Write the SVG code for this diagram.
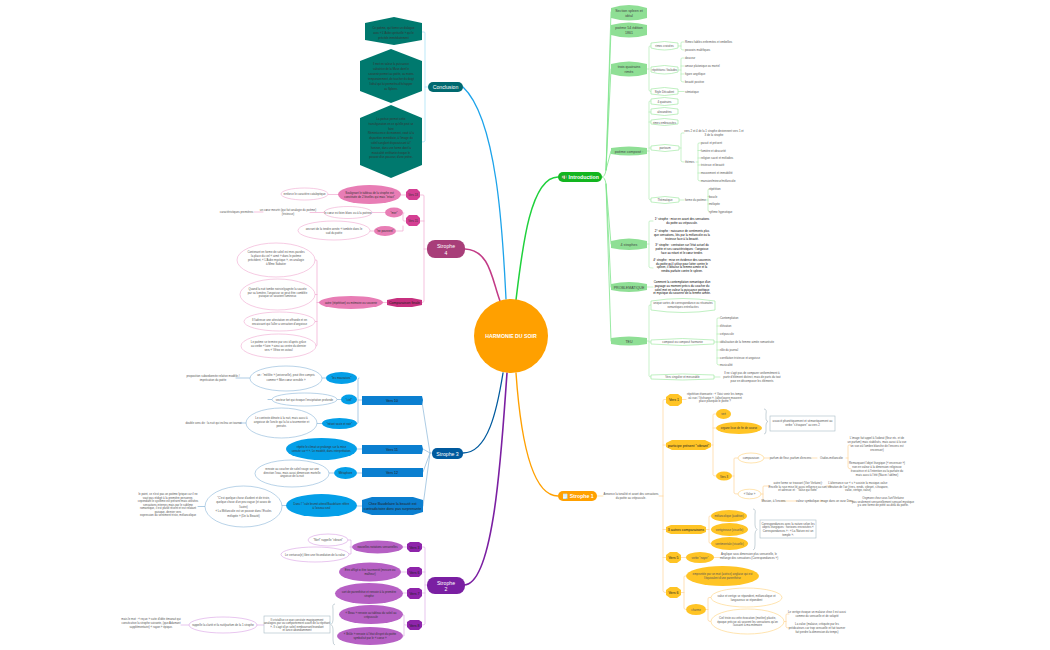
<svg xmlns="http://www.w3.org/2000/svg" width="1050" height="650" viewBox="0 0 1050 650">
<style>
text{font-family:"Liberation Sans",Arial,sans-serif;font-size:2.85px;fill:#555;text-anchor:middle}
.l{text-anchor:start}
.k{fill:#000;font-size:2.95px}
.d{fill:#333}
.m{font-size:3.6px;fill:#444}
.d.m{fill:#222}
.w{fill:#fff;font-size:5.2px;font-weight:bold}
.c{fill:none;stroke-linecap:round}
.gf{fill:#8fdf95}.gw{fill:#fff;stroke:#a5eaa8;stroke-width:.7}
.og{fill:#ffc425}.ow{fill:#fff;stroke:#ffd98e;stroke-width:.7}
.pf{fill:#e87db5}.ph{fill:#d43f93}.pw{fill:#fff;stroke:#f0a8d0;stroke-width:.6}
.bf{fill:#049fe8}.bh{fill:#0b7fd0}.bw{fill:#fff;stroke:#8ab6d8;stroke-width:.6}
.vf{fill:#b660c4}.vh{fill:#8e24aa}.vw{fill:#fff;stroke:#d8a0e4;stroke-width:.6}
.th{fill:#00796e}
.bx{fill:#fff;stroke:#a9bcc6;stroke-width:.6}
.br{fill:none;stroke:#8fa5b0;stroke-width:.5}
</style>
<g id="connectors" class="c">
<g stroke="#ffa000" fill="none">
<path d="M516 373C520 430 530 496 558 496" stroke-width="1.400"/>
<path d="M597 496H603" stroke="#ffd98e" stroke-width=".7"/>
</g>
<path d="M516 300C522 250 530 177 558 177" stroke="#1fd13c" stroke-width="1.500" fill="none"/>
<path d="M506 299C503 240 498 120 463 87" stroke="#1ca3ea" stroke-width="1.300" fill="none"/>
<path d="M500 301C492 280 490 250 465 249" stroke="#c23a86" stroke-width="1.500" fill="none"/>
<path d="M503 373C497 410 488 453 463 453" stroke="#005a9e" stroke-width="1.300" fill="none"/>
<path d="M507 373C502 440 495 585 464 585" stroke="#7b1fa2" stroke-width="1.600" fill="none"/>
<g stroke="#7fe58c" stroke-width=".8" fill="none">
<path d="M602 177Q605 177 606 170L611 12"/>
<path d="M606 170L611 30"/>
<path d="M606 170L611 69"/>
<path d="M606 170L611 151"/>
<path d="M606 184L611 244"/>
<path d="M602 177Q605 177 606 184L611 287"/>
<path d="M606 184L611 341"/>
</g>
<g stroke="#a5eaa8" stroke-width=".6" fill="none">
<path d="M647 69H649M651 46H650Q649 46 649 47V90Q649 91.500 651 91.500"/>
<path d="M678 46H681M684 42H682Q681 42 681 43V49Q681 50 684 50"/>
<path d="M678 70H681M684 58H682Q681 58 681 59V81Q681 82 684 82M681 66H684M681 74H684"/>
<path d="M678 91.500H684"/>
<path d="M647 151H649M651 101H650Q649 101 649 102V199Q649 200 651 200M649 112H651M649 122H651M649 148H651"/>
<path d="M679 148H681M684 133H682Q681 133 681 134V161Q681 162 684 162"/>
<path d="M696 162H698M701 143H699Q698 143 698 144V180Q698 181 701 181M698 150.500H701M698 158H701M698 165H701M698 173H701"/>
<path d="M679 200H684M706 200H708M709 189Q708 189 708 190V210Q708 211.500 709 211.500M708 196.500H709M708 204H709"/>
<path d="M647 244H649M653 221H650Q649 221 649 222V267Q649 268 653 268"/>
<path d="M647 287H653"/>
<path d="M647 341H649M651 305H650Q649 305 649 306V376Q649 377 651 377M649 342H651"/>
<path d="M714 342H717M720 318H718Q717 318 717 319V364Q717 365 720 365M717 326H720M717 334H720M717 342H720M717 350H720M717 358H720"/>
<path d="M714 377H720"/>
</g>
<g stroke="#ffd49a" stroke-width=".7" fill="none">
<path d="M659 496H663M666 399.500H664Q663 399.500 663 401V591Q663 592.500 666 592.500M663 445H666M663 529.500H666M663 557.500H666"/>
<path d="M682 399.500H686"/>
<path d="M711 445H713M716 414H714Q713 414 713 415V475Q713 476 716 476M713 428H716"/>
<path d="M732 476H734M738 458H735Q734 458 734 459V493Q734 494 738 494"/>
<path d="M764 458H769M811 458H817M846 458H848M851 445H849Q848 445 848 446V467Q848 469 851 469"/>
<path d="M761 494H763M770 486H764Q763 486 763 487V500Q763 501 765 501"/>
<path d="M826 486H831M781 501H796M818 501H824M849 501H854"/>
<path d="M706 529.500H709M711 516H710Q709 516 709 517V542Q709 543.500 711 543.500"/>
<path d="M681 557.500H686M714 557.500H720"/>
<path d="M681 592.500H684M686 576H685Q684 576 684 577V608Q684 609.500 686 609.500"/>
<path d="M706 609.500H708M711 597.500H709Q708 597.500 708 599V620Q708 621.500 711 621.500"/>
<path d="M784 621.500H786M789 614H787Q786 614 786 615V627Q786 628 789 628"/>
</g>
<path d="M428 87H425M422 32H424Q425 32 425 33V141Q425 142 422 142" stroke="#8fd8f4" stroke-width=".6" fill="none"/>
<g stroke="#f0a8d0" stroke-width=".7" fill="none">
<path d="M427 249H424M420 195H423Q424 195 424 196V301Q424 302.500 422 302.500M424 221H420"/>
<path d="M406 195H401M338 194.500H328"/>
<path d="M406 221H404Q403 221 403 220V213H404M403 226V231H396"/>
<path d="M385 212.500H372M324 212.500H310M263 212H254"/>
<path d="M374 231H370"/>
<path d="M387 302.500H383M319 302.500H317M315 260H316Q317 260 317 261V345Q317 346 316 346M317 294.500H315M317 321.500H315"/>
</g>
<g stroke="#8ab6d8" stroke-width=".7" fill="none">
<path d="M432 453H430L422 402M430 453L423 449M430 453L423 472M430 453L423 506"/>
<path d="M362 400H358M359 378Q358 378 358 379V423Q358 423.500 357 423.500"/>
<path d="M341 399.500H337M326 378H322M322 423.500H317M250 378H236M246 423H240M272 399.500H268"/>
<path d="M362 449H357M362 473H357M334 473H329M362 506H357M286 505.500H282M205 506.500H198"/>
</g>
<g stroke="#dcaee6" stroke-width=".7" fill="none">
<path d="M427 585H425M422 547H424Q425 547 425 548V624Q425 625 422 625M425 572H422M425 593H422"/>
<path d="M407 547H403M407 572H401M407 593H403M407 625H405Q404 625 404 624V615H403M404 625V636H403"/>
<path d="M352 547H350M348 540H351V554H349"/>
<path d="M264 625H257M189 625H181"/>
</g>
</g>
<g id="center"><circle cx="511" cy="336" r="37" fill="#ffa000"/><text x="511" y="338" class="w">HARMONIE DU SOIR</text></g>

<g id="intro"><rect x="558" y="172" width="44" height="10" rx="5" fill="#12b51f"/><text x="580" y="179" class="w">💵 Introduction</text></g>
<g id="n-spleen"><path d="M611 8Q629 2 647 8V18Q629 23 611 18Z" class="gf"/><text class="m"><tspan x="629" y="11.500">Section spleen et</tspan><tspan x="629" dy="5">idéal</tspan></text></g>
<g id="n-poeme54"><path d="M611 25Q629 20 647 25V35Q629 40 611 35Z" class="gf"/><text class="m"><tspan x="629" y="29">poème 54 édition</tspan><tspan x="629" dy="5">1861</tspan></text></g>
<g id="n-quatrains"><path d="M611 64Q629 59 647 64V74Q629 79 611 74Z" class="gf"/><text class="m"><tspan x="629" y="68">trois quatrains</tspan><tspan x="629" dy="5">rimés</tspan></text></g>
<g id="n-rimes"><path d="M651 43Q664.500 40 678 43V48Q664.500 52 651 48Z" class="gw"/><text x="664.500" y="47">rimes croisées</text></g>
<text x="685" y="43" class="l">Rimes faibles enfermées et embellies</text>
<text x="685" y="51" class="l">pouvoirs maléfiques</text>
<g id="n-rep"><path d="M651 67Q664.500 64 678 67V72Q664.500 76 651 72Z" class="gw"/><text x="664.500" y="71">répétitions / balades</text></g>
<text x="685" y="59" class="l">douceur</text>
<text x="685" y="67" class="l">amour platonique ou mortel</text>
<text x="685" y="75" class="l">figure angélique</text>
<text x="685" y="83" class="l">beauté positive</text>
<g id="n-style"><path d="M651 89Q664.500 86 678 89V94Q664.500 97 651 94Z" class="gw"/><text x="664.500" y="92.500">Style Décadent</text></g>
<text x="685" y="92.500" class="l">sémiotique</text>
<g id="n-4q"><path d="M651 99Q664.500 96 678 99V104Q664.500 107 651 104Z" class="gw"/><text x="664.500" y="102.500">4 quatrains</text></g>
<g id="n-alex"><path d="M651 109Q664.500 106 678 109V114Q664.500 117 651 114Z" class="gw"/><text x="664.500" y="113">alexandrins</text></g>
<g id="n-rimesemb"><path d="M651 120Q664.500 117 678 120V124Q664.500 127 651 124Z" class="gw"/><text x="664.500" y="123.500">rimes embrassées</text></g>
<g id="n-compose"><path d="M611 148Q629 145 647 148V154Q629 157 611 154Z" class="gf"/><text x="629" y="152.500" class="m">poème composé :</text></g>
<g id="n-pantoum"><path d="M651 146Q665 143 679 146V150Q665 153 651 150Z" class="gw"/><text x="665" y="149">pantoum</text></g>
<text><tspan x="714" y="132">vers 2 et 4 de la 1 strophe deviennent vers 1 et</tspan><tspan x="714" dy="4">3 de la strophe</tspan></text>
<text x="685" y="163" class="l">thèmes</text>
<text x="701" y="144" class="l">passé et présent</text>
<text x="701" y="151.500" class="l">lumière et obscurité</text>
<text x="701" y="159" class="l">religion sacré et mélodies</text>
<text x="701" y="166" class="l">tristesse et beauté</text>
<text x="701" y="174" class="l">mouvement et immobilité</text>
<text x="701" y="182" class="l">mansion/mineur/mélancolie</text>
<g id="n-them"><path d="M651 198Q665 195 679 198V202Q665 205 651 202Z" class="gw"/><text x="665" y="201">Thématique</text></g>
<text x="685" y="201" class="l">forme du poème</text>
<text x="709" y="190" class="l">répétition</text>
<text x="709" y="197.500" class="l">boucle</text>
<text x="709" y="205" class="l">mélopée</text>
<text x="709" y="212.500" class="l">rythme hypnotique</text>
<g id="n-4s"><path d="M611 241Q629 236 647 241V248Q629 252 611 248Z" class="gf"/><text x="629" y="245.500" class="m">4 strophes</text></g>
<text class="k"><tspan x="682" y="220">1° strophe : mise en avant des sensations</tspan><tspan x="682" dy="4">du poète au crépuscule.</tspan></text>
<text class="k"><tspan x="682" y="232">2° strophe : naissance de sentiments plus</tspan><tspan x="682" dy="3.800">que sensations, liés par la mélancolie ou la</tspan><tspan x="682" dy="3.800">tristesse face à la beauté.</tspan></text>
<text class="k"><tspan x="682" y="246">3° strophe : centration sur l'état actuel du</tspan><tspan x="682" dy="4">poète et ses caractéristiques : l'angoisse</tspan><tspan x="682" dy="4">face au néant et le cœur tendre.</tspan></text>
<text class="k"><tspan x="682" y="261">4° strophe : mise en évidence des souvenirs</tspan><tspan x="682" dy="3.700">du poète qu'il utilise pour lutter contre le</tspan><tspan x="682" dy="3.700">spleen, il idéalise la femme aimée et la</tspan><tspan x="682" dy="3.700">rendra parfaite contre le spleen.</tspan></text>
<g id="n-prob"><path d="M611 284Q629 280 647 284V290Q629 294 611 290Z" class="gf"/><text x="629" y="288.500" class="m">PROBLEMATIQUE</text></g>
<text class="k"><tspan x="682" y="283">Comment la contemplation romantique d'un</tspan><tspan x="682" dy="3.800">paysage au moment précis du coucher du</tspan><tspan x="682" dy="3.800">soleil met en valeur la puissance poétique</tspan><tspan x="682" dy="3.800">et mystique du souvenir de la femme aimée.</tspan></text>
<g id="n-teu"><path d="M611 338Q629 335 647 338V344Q629 347 611 344Z" class="gf"/><text x="629" y="342.500" class="m">TEU</text></g>
<g id="n-sortes"><path d="M651 301Q683 296 715 301V310Q683 315 651 310Z" class="gw"/><text><tspan x="683" y="304">unique sortes de correspondance ou résonates</tspan><tspan x="683" dy="4">romantiques entrelacées</tspan></text></g>
<g id="n-compo"><path d="M651 340Q682.500 337 714 340V344Q682.500 347 651 344Z" class="gw"/><text x="682.500" y="343">composé ou composé harmonie</text></g>
<text x="720" y="319" class="l">Contemplation</text>
<text x="720" y="327" class="l">élévation</text>
<text x="720" y="335" class="l">crépuscule</text>
<text x="720" y="343" class="l">idéalisation de la femme aimée romantisée</text>
<text x="720" y="351" class="l">rôle du journal</text>
<text x="720" y="359" class="l">corrélation tristesse et angoisse</text>
<text x="720" y="366" class="l">musicalité</text>
<g id="n-vers-sing"><path d="M651 375Q682.500 373 714 375V379Q682.500 381 651 379Z" class="gw"/><text x="682.500" y="378">Vers singulier et mesurable</text></g>
<text><tspan x="752" y="374">Il ne s'agit pas de comparer uniformément à</tspan><tspan x="752" dy="3.800">partir d'élément distinct, mais de parts du tout</tspan><tspan x="752" dy="3.800">pour en décomposer les éléments</tspan></text>

<g id="strophe1"><rect x="558" y="491" width="39" height="10" rx="5" fill="#ffa000"/><text x="578" y="498" class="w">🗒️ Strophe 1</text></g>
<text><tspan x="631" y="495">Annonce la tonalité et avant des sensations</tspan><tspan x="631" dy="3.800">du poète au crépuscule.</tspan></text>
<g id="v1"><polygon points="666,397 670,394 678,394 682,397 682,403 678,406 670,406 666,403" class="og"/><text x="674" y="401" class="d m">Vers 1</text></g>
<text><tspan x="715" y="395">répétition étonnante : « Voici venir les temps</tspan><tspan x="715" dy="3.500">où vue / l'échange », (allez)ouvre mouvent</tspan><tspan x="715" dy="3.500">place pourquoi le poète ?</tspan></text>
<g id="vibrant"><polygon points="666,443 672,440 705,440 711,443 711,447 705,450 672,450 666,447" class="og"/><text x="688.500" y="446.500" class="d m">participe présent "vibrant"</text></g>
<g id="vert"><ellipse cx="723.500" cy="414" rx="7.500" ry="5" class="og"/><text x="723.500" y="415">vert</text></g>
<g id="organe"><ellipse cx="739" cy="428" rx="23" ry="6" class="og"/><text x="739" y="429" class="d">organe lisse de fin de course</text></g>
<path d="M764 409Q767 409 766 414V419Q766 421 768 421.500Q766 422 766 425V431Q766 434 764 434" class="br"/>
<g id="assoc"><rect x="770" y="416" width="65" height="15" class="bx"/><text><tspan x="802.500" y="422">associé phonétiquement et sémantiquement au</tspan><tspan x="802.500" dy="4">verbe "s'évapore" au vers 2</tspan></text></g>
<g id="v3"><ellipse cx="724" cy="476" rx="8" ry="4.500" class="og"/><text x="724" y="477.500" class="d">Vers 3</text></g>
<g id="compar"><ellipse cx="751" cy="458" rx="13" ry="5" class="ow"/><text x="751" y="459">comparaison</text></g>
<text x="790.500" y="459">parfum de fleur, parfum d'encens</text>
<text x="831.500" y="459">Oudos-mélancolie</text>
<text><tspan x="877" y="439">L'image fait appel à l'odorat (fleur etc. et de</tspan><tspan x="877" dy="4">un parfum) mais stabilisés, mais aussi à la vue</tspan><tspan x="877" dy="4">un vue où l'ombre blanche de l'encens est</tspan><tspan x="877" dy="4">encensoir)</tspan></text>
<text><tspan x="877" y="464">Remarquant l'objet liturgique (« encensoir »)</tspan><tspan x="877" dy="4">non en valeur à la dimension religieuse</tspan><tspan x="877" dy="4">évocatrice et à l'intention ou la parfaite du</tspan><tspan x="877" dy="4">mais aussi à l'été (Nacre / abîme)</tspan></text>
<g id="valse"><ellipse cx="749.500" cy="494" rx="11.500" ry="4.800" class="ow"/><text x="749.500" y="495">« Valse »</text></g>
<text><tspan x="798" y="484">autre forme se trouvant (Voir Verlaine):</tspan><tspan x="798" dy="3.500">Encelle la ruse mise lié aussi influence au son,</tspan><tspan x="798" dy="3.500">et adresse et : "Valse qui flotte"</tspan></text>
<text><tspan x="858" y="484">L'alternance sur « s » assiste la musique-valse:</tspan><tspan x="858" dy="3.500">vibration de l'air (rires, rends, vibrant, s'évapore,</tspan><tspan x="858" dy="3.500">valse, vertige, valse)</tspan></text>
<text x="773.500" y="502">Mission, à l'encens</text>
<text x="807.500" y="502">valeur symbolique</text>
<text x="836.500" y="502">image dans un vase Dieu</text>
<text><tspan x="883" y="499">Oxymore chez sous l'art/Verlaine</tspan><tspan x="883" dy="3.500">pas seulement sensoriellement sensuel mystique</tspan><tspan x="883" dy="3.500">y a une forme de piété au-delà du poète.</tspan></text>
<g id="autres"><polygon points="666,527 671,525 701,525 706,527 706,532 701,534 671,534 666,532" class="og"/><text x="686" y="531" class="d m">3 autres comparaisons</text></g>
<g id="melan"><ellipse cx="729" cy="516" rx="18" ry="6" class="og"/><text x="729" y="517">mélancolique (auditive)</text></g>
<g id="vertig"><ellipse cx="729.500" cy="529.500" rx="18.500" ry="6.500" class="og"/><text x="729.500" y="530.500">vertigineuse (visuelle)</text></g>
<g id="sentim"><ellipse cx="729.500" cy="543.500" rx="18.500" ry="6.500" class="og"/><text x="729.500" y="544.500">sentimentale (visuelle)</text></g>
<path d="M753 509Q756 509 755 514V525Q755 528 757 529.500Q755 531 755 534V545Q755 550 753 550" class="br"/>
<g id="corresp"><rect x="760" y="520" width="56" height="18" class="bx"/><text><tspan x="788" y="524.500">Correspondances avec la nature selon les</tspan><tspan x="788" dy="3.700">objets liturgiques : horizons encroisées «</tspan><tspan x="788" dy="3.700">Correspondances » : « La Nature est un</tspan><tspan x="788" dy="3.700">temple ».</tspan></text></g>
<g id="v5"><polygon points="666,555 670,552 677,552 681,555 681,560 677,563 670,563 666,560" class="og"/><text x="673.500" y="559" class="d m">Vers 5</text></g>
<g id="noyer"><ellipse cx="700" cy="557.500" rx="14" ry="5.500" class="og"/><text x="700" y="558.500">verbe "noyer"</text></g>
<text><tspan x="749" y="555">Anglique sous dimension plus sensorielle, le</tspan><tspan x="749" dy="4">mélange des sensations (Correspondances »)</tspan></text>
<g id="v6o"><polygon points="666,590 670,587 677,587 681,590 681,595 677,598 670,598 666,595" class="og"/><text x="673.500" y="594" class="d m">Vers 6</text></g>
<g id="empr"><ellipse cx="722.500" cy="576" rx="36.500" ry="10" class="og"/><text><tspan x="722.500" y="575">empruntée par un mot (autrice) anglaise qui est</tspan><tspan x="722.500" dy="4">l'équivalent d'une parenthèse</tspan></text></g>
<g id="charme"><ellipse cx="696" cy="609.500" rx="10" ry="5.500" class="og"/><text x="696" y="610.500">charme</text></g>
<g id="valse2"><ellipse cx="746.500" cy="597.500" rx="35.500" ry="9.500" class="ow"/><text><tspan x="746.500" y="596.500">valse et vertige se répondent, mélancolique et</tspan><tspan x="746.500" dy="4">langoureux se répondent</tspan></text></g>
<g id="cieltriste"><ellipse cx="747.500" cy="621.500" rx="36.500" ry="12.500" class="ow"/><text><tspan x="747.500" y="619">Ciel triste ou cette évocation (mot/en) placée,</tspan><tspan x="747.500" dy="3.500">époque précise où souvent les sensations qu'on</tspan><tspan x="747.500" dy="3.500">l'assaint à ma mémoire</tspan></text></g>
<text><tspan x="817" y="613">Le vertige évoque un malaise chez il est aussi</tspan><tspan x="817" dy="4">comme du sensuelle et de volupté</tspan></text>
<text><tspan x="817" y="625">La valse (malaise, critiquée par les</tspan><tspan x="817" dy="4">prédicateurs car trop sensuelle et fait tourner</tspan><tspan x="817" dy="4">fait perdre la dimension du temps)</tspan></text>

<g id="conclusion"><rect x="428" y="82" width="35" height="10" rx="5" fill="#00696f"/><text x="445.500" y="89" class="w" style="font-weight:normal">Conclusion</text></g>
<g id="h1"><polygon points="394,17 422,23 422,40 394,45 365,40 365,23" class="th"/><text class="d"><tspan x="393.500" y="29">Ce poème, qui forme un dialogue</tspan><tspan x="393.500" dy="5">avec « L'Aube spirituelle » qui le</tspan><tspan x="393.500" dy="5">précède immédiatement</tspan></text></g>
<g id="h2"><polygon points="391,49 422,61 422,91 391,103 360,91 360,61" class="th"/><text class="d"><tspan x="391" y="65">Il met en valeur la puissance</tspan><tspan x="391" dy="5">salvatrice de la Muse dont le</tspan><tspan x="391" dy="5">souvenir permet au poète, au moins</tspan><tspan x="391" dy="5">temporairement, de toucher du doigt</tspan><tspan x="391" dy="5">l'idéal qui lui permettra d'échapper</tspan><tspan x="391" dy="5">au Spleen.</tspan></text></g>
<g id="h3"><polygon points="391,105 422,118 422,165 391,178 360,165 360,118" class="th"/><text class="d"><tspan x="391" y="120">La poésie permet cette</tspan><tspan x="391" dy="4.800">transfiguration en ce qu'elle peut se</tspan><tspan x="391" dy="4.800">faire</tspan><tspan x="391" dy="4.800">Réminiscence du moment, voué à la</tspan><tspan x="391" dy="4.800">disparition immédiate, à l'image du</tspan><tspan x="391" dy="4.800">soleil sanglant disparaissant à l'</tspan><tspan x="391" dy="4.800">horizon, dans une forme dont la</tspan><tspan x="391" dy="4.800">musicalité entêtante évoque le</tspan><tspan x="391" dy="4.800">pouvoir d'un passeur, d'une prière.</tspan></text></g>

<g id="strophe4"><rect x="427" y="240" width="38" height="18" rx="8" fill="#a83e79"/><text class="w" style="font-weight:normal"><tspan x="446" y="248">Strophe</tspan><tspan x="446" dy="6.500">4</tspan></text></g>
<g id="v13"><polygon points="406,192 409,189 417,189 420,192 420,197 417,200 409,200 406,197" class="ph"/><text x="413" y="196" class="d">Vers 13</text></g>
<g id="v15"><polygon points="406,218 409,215 417,215 420,218 420,223 417,226 409,226 406,223" class="ph"/><text x="413" y="222" class="d">Vers 15</text></g>
<g id="compfin"><polygon points="387,300 397,298 412,298 422,300 422,305 412,307 397,307 387,305" fill="#c7307f"/><text x="404.500" y="304" class="d m">Comparaison finale</text></g>
<g id="soul"><ellipse cx="369.500" cy="194.500" rx="31.500" ry="9.500" class="pf"/><text class="d"><tspan x="369.500" y="193.500">Soulignant le tableau de la strophe est</tspan><tspan x="369.500" dy="4">constituée de 2 lèvelles qui mais "intact"</tspan></text></g>
<g id="renf"><ellipse cx="304.500" cy="194" rx="23.500" ry="6" class="pw"/><text x="304.500" y="195">renforce le caractère cataleptique</text></g>
<g id="mer"><ellipse cx="394" cy="212.500" rx="9" ry="5" class="pf"/><text x="394" y="213.500" class="d">"mer"</text></g>
<g id="coeur"><ellipse cx="348" cy="212.500" rx="24" ry="6" class="pw"/><text x="348" y="213.500">le cœur est bien blanc ou à la poitrine</text></g>
<text><tspan x="288" y="211">un cœur meurtri (qui fait analogie du poème)</tspan><tspan x="288" dy="4">(tristesse)</tspan></text>
<text x="236.500" y="213">caractéristiques premières</text>
<g id="pourvent"><ellipse cx="385" cy="231" rx="11" ry="5" class="pf"/><text x="385" y="232" class="d">"ne pourvent"</text></g>
<g id="ancrant"><ellipse cx="334" cy="230.500" rx="36" ry="9.500" class="pw"/><text><tspan x="334" y="229.500">ancrant de la tendre année « tombée dans le</tspan><tspan x="334" dy="4">sud du poète</tspan></text></g>
<g id="ea"><ellipse cx="276" cy="260" rx="39" ry="17" class="pw"/><text><tspan x="276" y="253">Contenant en forme de soleil est mes paroles</tspan><tspan x="276" dy="4">la place du ciel « aimé » dans le poème</tspan><tspan x="276" dy="4">précédent, « L'Aube mystique », en analogie</tspan><tspan x="276" dy="4">à Mme Sabatier</tspan></text></g>
<g id="eb"><ellipse cx="277.500" cy="294.500" rx="37.500" ry="15.500" class="pw"/><text><tspan x="277.500" y="290">Quand la nuit tombe noircie/gagnée la sauvée</tspan><tspan x="277.500" dy="3.600">par sa lumière, l'angoisse se peut être comblée</tspan><tspan x="277.500" dy="3.600">puisque se souvient lumineux</tspan></text></g>
<g id="ec"><ellipse cx="279.500" cy="321.500" rx="35.500" ry="9.500" class="pw"/><text><tspan x="279.500" y="321">Il l'adresse une attestation en offrande et en</tspan><tspan x="279.500" dy="4">encaissant qui l'aller a sensation d'angoisse</tspan></text></g>
<g id="ed"><ellipse cx="278.500" cy="346" rx="37.500" ry="12" class="pw"/><text><tspan x="278.500" y="343">Le poème se termine par ceci d'après grâce</tspan><tspan x="278.500" dy="4">au verbe « luire » ainsi au centre du dernier</tspan><tspan x="278.500" dy="4">vers « Vêtez en ostoul</tspan></text></g>
<g id="autrerep"><ellipse cx="351" cy="302.500" rx="32" ry="6.500" class="pf"/><text x="351" y="303.500" class="d">autre (répétition) ou mémoire ou souvenir</text></g>

<g id="strophe3"><rect x="432" y="448" width="31" height="11" rx="5" fill="#005a9e"/><text x="447.500" y="455.500" class="w" style="font-weight:normal">Strophe 3</text></g>
<g id="v10"><polygon points="362,396 422,396 423,400 422,405 362,405" class="bh"/><text x="392" y="401.500" class="d m">Vers 10</text></g>
<g id="v11"><polygon points="362,445 422,445 423,449 422,454 362,454" class="bh"/><text x="392" y="450.500" class="d m">Vers 11</text></g>
<g id="v12"><polygon points="362,468 423,468 423,477 362,477" class="bh"/><text x="392" y="474" class="d m">Vers 12</text></g>
<g id="chez"><polygon points="362,500 372,497 413,497 423,500 423,512 413,515 372,515 362,512" class="bh"/><text class="d m"><tspan x="392.500" y="505">Chez Baudelaire la beauté est</tspan><tspan x="392.500" dy="5">contradictoire donc pas surprenante</tspan></text></g>
<g id="mauv"><ellipse cx="341.500" cy="378" rx="15.500" ry="6" class="bf"/><text x="341.500" y="379" class="d">"les mauvaises"</text></g>
<g id="e1b"><ellipse cx="286" cy="378.500" rx="36" ry="12.500" class="bw"/><text><tspan x="286" y="376">un : "mélilite » (universelle), peut être compris</tspan><tspan x="286" dy="5">comme « Mon cœur sensible »</tspan></text></g>
<text><tspan x="213" y="377">proposition subordonnée relative modèle /</tspan><tspan x="213" dy="4">imprécation du poète</tspan></text>
<g id="ciel"><ellipse cx="349" cy="399.500" rx="8" ry="5" class="bf"/><text x="349" y="400.500" class="d">"ciel"</text></g>
<g id="e2b"><ellipse cx="304.500" cy="399.500" rx="32.500" ry="6.500" class="bw"/><text x="304.500" y="400.500">vecteur fort qui évoque l'encipitation profonde</text></g>
<g id="neant"><ellipse cx="339.500" cy="423.500" rx="17.500" ry="5.500" class="bf"/><text x="339.500" y="424.500" class="d">"néant vaste et noir"</text></g>
<g id="e3b"><ellipse cx="281.500" cy="423" rx="35.500" ry="15" class="bw"/><text><tspan x="281.500" y="419">Le contexte dénote à la nuit, mais aussi à</tspan><tspan x="281.500" dy="4">angoisse de l'oncle qui la lui a tourmenter et</tspan><tspan x="281.500" dy="4">pensée.</tspan></text></g>
<text x="213.500" y="424">double sens de : la nuit qui inclina un tournoi</text>
<g id="repete"><ellipse cx="321.500" cy="449" rx="35.500" ry="11" class="bf"/><text class="d"><tspan x="321.500" y="448">répète le climat se prolonge sur la mise</tspan><tspan x="321.500" dy="4">sensée sur « ». Le modelé, dans interprétation.</tspan></text></g>
<g id="meta"><ellipse cx="345.500" cy="473" rx="11.500" ry="6" class="bf"/><text x="345.500" y="474" class="d">Métaphore</text></g>
<g id="e4b"><ellipse cx="292" cy="473.500" rx="37" ry="13.500" class="bw"/><text><tspan x="292" y="470">renvoie au coucher de soleil rouge sur une</tspan><tspan x="292" dy="3.600">direction l'eau, mais aussi dimension mortelle</tspan><tspan x="292" dy="3.600">angoisse de la nuit</tspan></text></g>
<g id="dans"><ellipse cx="321.500" cy="505.500" rx="35.500" ry="11.500" class="bf"/><text class="d"><tspan x="321.500" y="505">Dans l' "cale brumé attend Baudelaire réfère</tspan><tspan x="321.500" dy="4">à l'oiseau seul</tspan></text></g>
<g id="e5b"><ellipse cx="243.500" cy="506.500" rx="38.500" ry="20.500" class="bw"/><text><tspan x="243.500" y="498.500">"C'est quelque chose d'ardent et de triste,</tspan><tspan x="243.500" dy="4.500">quelque chose d'un peu vague (et avaro de</tspan><tspan x="243.500" dy="4.500">l'autre)</tspan><tspan x="243.500" dy="4.500">« La Mélancolie est un pouvoir dans l'Ecoles</tspan><tspan x="243.500" dy="4.500">mélopée » (De la Beauté)</tspan></text></g>
<text><tspan x="168" y="495">le point, ce n'est pas un poème lyrique car il ne</tspan><tspan x="168" dy="3.500">vaut pas rédigé à la première personne,</tspan><tspan x="168" dy="3.500">cependant le système est présent mais utilisées</tspan><tspan x="168" dy="3.500">sensations internes mais par le sublime</tspan><tspan x="168" dy="3.500">romantique, il est plutôt récent et est relatant</tspan><tspan x="168" dy="3.500">puisque, dernier vers</tspan><tspan x="168" dy="3.500">expression du sentiment triste, mélancolique</tspan></text>

<g id="strophe2"><rect x="427" y="577" width="38" height="17" rx="8" fill="#7a1fa2"/><text class="w" style="font-weight:normal"><tspan x="446" y="584.500">Strophe</tspan><tspan x="446" dy="6.500">2</tspan></text></g>
<g id="v3p"><polygon points="407,544 410,542 419,542 422,544 422,549 419,552 410,552 407,549" class="vh"/><text x="414.500" y="548.500" class="d m">Vers 3</text></g>
<g id="v6p"><polygon points="407,569 410,567 419,567 422,569 422,574 419,577 410,577 407,574" class="vh"/><text x="414.500" y="573.500" class="d m">Vers 6</text></g>
<g id="v7p"><polygon points="407,590 410,588 419,588 422,590 422,596 419,599 410,599 407,596" class="vh"/><text x="414.500" y="594.500" class="d m">Vers 7</text></g>
<g id="v8p"><polygon points="407,622 410,620 419,620 422,622 422,627 419,630 410,630 407,627" class="vh"/><text x="414.500" y="626.500" class="d m">Vers 8</text></g>
<g id="nouv"><ellipse cx="377.500" cy="547" rx="25.500" ry="6.500" class="vf"/><text x="377.500" y="548" class="d">nouvelles notations sensorielles</text></g>
<g id="afflige"><ellipse cx="370" cy="572" rx="31" ry="9.500" class="vf"/><text class="d"><tspan x="370" y="571">Etre affligé = être tourmenté (mesure ou</tspan><tspan x="370" dy="4">malheur)</tspan></text></g>
<g id="sort"><ellipse cx="369" cy="593.500" rx="34" ry="10.500" class="vf"/><text class="d"><tspan x="369" y="592.500">sort de parenthèse et renvoie à la première</tspan><tspan x="369" dy="4">strophe</tspan></text></g>
<g id="beau"><ellipse cx="371" cy="614.500" rx="32" ry="9.500" class="vf"/><text class="d"><tspan x="371" y="613.500">« Beau » renvoie au tableau du soleil au</tspan><tspan x="371" dy="4">crépuscule</tspan></text></g>
<g id="brule"><ellipse cx="370" cy="636" rx="33" ry="9" class="vf"/><text class="d"><tspan x="370" y="635">« Brûle » renvoie à l'état d'esprit du poète</tspan><tspan x="370" dy="4">symbolisé par le « coeur »</tspan></text></g>
<g id="nerf"><ellipse cx="328" cy="540" rx="20" ry="6" class="vw"/><text x="328" y="541">"Nerf" rappelle "vibrant"</text></g>
<g id="vertu"><ellipse cx="315" cy="554.500" rx="34" ry="7.500" class="vw"/><text x="315" y="555.500">Le vertueux(e) libre une fécondation de la valse</text></g>
<path d="M335 604Q332 604 333 609V620Q333 623 331 624.500Q333 626 333 629V640Q333 645 335 645" class="br"/>
<g id="cristal"><rect x="264" y="616" width="66" height="17" class="bx"/><text><tspan x="297" y="620.500">Il cristallise ce que constate magiquement</tspan><tspan x="297" dy="3.500">analogies par ou comportement avant de la répétant</tspan><tspan x="297" dy="3.500">». Il s'agit d'un soleil rembourrant/inondant</tspan><tspan x="297" dy="3.500">et lance abondamment</tspan></text></g>
<g id="rapp"><ellipse cx="223" cy="625" rx="34" ry="8" class="vw"/><text x="223" y="626">rappelle la clarté et la nuit/parfum de la 1 strophe</text></g>
<text><tspan x="151" y="620">mais le mot : « reçue » suite d'idée émanait qui</tspan><tspan x="151" dy="3.800">consécutive la strophe suivante, (que Adamant</tspan><tspan x="151" dy="3.800">supplémentaire) « rayon » épique.</tspan></text>
</svg>
